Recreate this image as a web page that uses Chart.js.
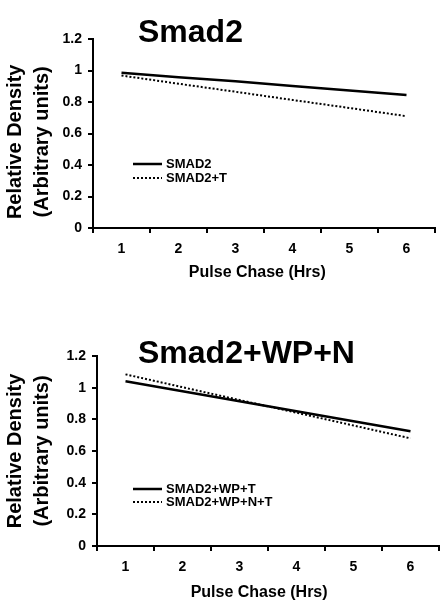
<!DOCTYPE html>
<html lang="en">
<head>
<meta charset="UTF-8">
<title>Smad2 pulse chase</title>
<script src="https://cdn.jsdelivr.net/npm/chart.js"></script>
<style>
    body { margin: 0; background: #fff; width: 447px; height: 609px; overflow: hidden; position: relative; font-family: 'Liberation Sans', Arial, sans-serif; }
    .panel { position: absolute; left: 0; }
    .title { position: absolute; left: 138px; font-weight: bold; font-size: 32px; line-height: 32px; color: #000; white-space: nowrap; }
</style>
</head>
<body>
<div class="panel" style="top:0"><canvas id="top" width="447" height="300"></canvas></div>
<div class="panel" style="top:300px"><canvas id="bottom" width="447" height="309"></canvas></div>
<div class="title" style="top:15px">Smad2</div>
<div class="title" style="top:336px">Smad2+WP+N</div>

<script>
// data
const hours = ['1', '2', '3', '4', '5', '6'];
const smad2 = [0.985, 0.957, 0.931, 0.902, 0.873, 0.845];
const smad2T = [0.968, 0.916, 0.865, 0.813, 0.762, 0.71];
const smad2WpT = [1.04, 0.977, 0.914, 0.851, 0.788, 0.725];
const smad2WpNT = [1.084, 1.003, 0.922, 0.842, 0.761, 0.68];

Chart.defaults.font.family = "'Liberation Sans', Arial, sans-serif";
Chart.defaults.font.weight = 'bold';
Chart.defaults.color = '#000';

// legend drawn inside the plot area
const inPlotLegend = {
    id: 'inPlotLegend',
    afterDraw(chart, args, opts) {
        const ctx = chart.ctx;
        ctx.save();
        ctx.font = "bold 13px 'Liberation Sans', Arial, sans-serif";
        ctx.textBaseline = 'middle';
        ctx.fillStyle = '#000';
        chart.data.datasets.forEach((ds, i) => {
            const y = opts.y + i * opts.gap;
            ctx.beginPath();
            ctx.setLineDash(ds.borderDash || []);
            ctx.lineWidth = ds.borderWidth;
            ctx.strokeStyle = ds.borderColor;
            ctx.moveTo(opts.x, y);
            ctx.lineTo(opts.x + 29, y);
            ctx.stroke();
            ctx.fillText(ds.label, opts.x + 33, y);
        });
        ctx.restore();
    }
};

function makeChart(id, labels, series, pad, yWidth, xHeight, yTitle, xTitle, legendAt) {
    return new Chart(id, {
        type: 'line',
        data: {
            labels: hours,
            datasets: [
                { label: labels[0], data: series[0], borderColor: '#000', borderWidth: 2.5, pointRadius: 0, tension: 0 },
                { label: labels[1], data: series[1], borderColor: '#000', borderWidth: 2, borderDash: [2, 2], pointRadius: 0, tension: 0 }
            ]
        },
        options: {
            responsive: false,
            animation: false,
            layout: { padding: pad },
            plugins: {
                legend: { display: false },
                tooltip: { enabled: false },
                inPlotLegend: legendAt
            },
            scales: {
                x: {
                    offset: true,
                    grid: { offset: true, drawOnChartArea: false, drawTicks: true, tickLength: 5, color: '#000', lineWidth: 2 },
                    border: { display: true, color: '#000', width: 2 },
                    ticks: { font: { size: 14, weight: 'bold' }, padding: 8 },
                    title: { display: true, text: xTitle, font: { size: 16, weight: 'bold' }, padding: 0 },
                    afterFit: s => { s.height = xHeight; }
                },
                y: {
                    min: 0,
                    max: 1.2,
                    ticks: {
                        stepSize: 0.2,
                        font: { size: 14, weight: 'bold' },
                        padding: 6,
                        callback: v => String(Number(v.toFixed(1)))
                    },
                    grid: { drawOnChartArea: false, drawTicks: true, tickLength: 5, color: '#000', lineWidth: 2 },
                    border: { display: true, color: '#000', width: 2 },
                    title: { display: true, text: yTitle, font: { size: 20, weight: 'bold', lineHeight: 1.35 }, padding: { top: 2, bottom: 0 } },
                    afterFit: s => { s.width = yWidth; }
                }
            }
        },
        plugins: [inPlotLegend]
    });
}

makeChart('top', ['SMAD2', 'SMAD2+T'], [smad2, smad2T],
    { top: 39, right: 12, bottom: 18, left: 0 }, 93, 54,
    ['Relative Density   ', '(Arbitrary units)   '], 'Pulse Chase (Hrs)   ',
    { x: 133, y: 164, gap: 14 });

makeChart('bottom', ['SMAD2+WP+T', 'SMAD2+WP+N+T'], [smad2WpT, smad2WpNT],
    { top: 56, right: 8, bottom: 7, left: 0 }, 97, 56,
    ['Relative Density', '(Arbitrary units)'], 'Pulse Chase (Hrs)    ',
    { x: 133, y: 189, gap: 13 });
</script>
</body>
</html>
